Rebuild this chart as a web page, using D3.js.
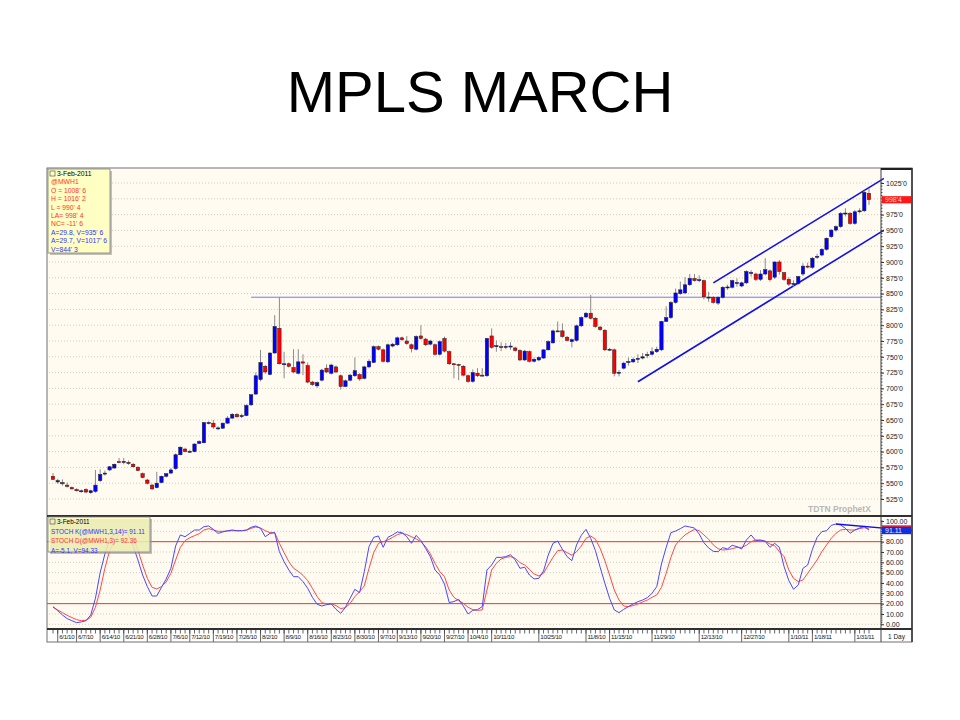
<!DOCTYPE html>
<html>
<head>
<meta charset="utf-8">
<script src="https://cdn.jsdelivr.net/npm/d3@7"></script>
<style>
  body { margin: 0; background: #fff; }
  svg { display: block; }
  text { font-family: "Liberation Sans", Arial, sans-serif; }
</style>
</head>
<body>
<svg id="chart" width="960" height="720"></svg>
<script>
// trading days 5/28/10 .. 2/3/11 (exchange holidays removed)
const holidays = ["2010-05-31", "2010-07-05", "2010-09-06", "2010-11-25", "2010-12-24", "2011-01-17"];
const keyFmt = d3.timeFormat("%Y-%m-%d");
const dates = d3.timeDay.range(new Date(2010, 4, 28), new Date(2011, 1, 4))
  .filter(d => d.getDay() % 6 !== 0 && !holidays.includes(keyFmt(d)));

const tickLabels = ["6/1/10", "6/7/10", "6/14/10", "6/21/10", "6/28/10", "7/6/10", "7/12/10", "7/19/10",
  "7/26/10", "8/2/10", "8/9/10", "8/16/10", "8/23/10", "8/30/10", "9/7/10", "9/13/10", "9/20/10",
  "9/27/10", "10/4/10", "10/11/10", "10/25/10", "11/8/10", "11/15/10", "11/29/10", "12/13/10",
  "12/27/10", "1/10/11", "1/18/11", "1/31/11"];

const opens = [561,552,551,547,543,540,537,540,535,537, 554,565,571,574,584,584,583,580,575,565,
  555,547,543,551,561,566,573,595,604,600, 600,613,614,645,645,637,637,645,653,659,
  656,657,674,691,714,735,722,756,795,738, 739,733,724,742,736,710,704,713,732,724,
  734,720,703,713,720,722,716,734,741,766, 761,742,767,769,780,775,769,762,783,778,
  770,769,754,779,758,739,738,735,720,711, 724,721,720,783,767,766,766,767,764,760,
  745,758,743,745,748,761,772,791,791,781, 774,776,799,813,819,811,797,792,761,761,
  725,732,742,742,747,748,753,754,758,761, 806,812,836,850,851,864,874,871,870.5,844,
  844,835,844,860,860,867,862,867,883,881, 872.5,881,886,876,900,883,872.5,865,866,881,
  893.5,891.5,908,911,920,940,950.5,956,977,977, 961,980,981,1008.75];
const highs = [566,557,556,551,545,542,540,542,540,571, 572,570,577,581,590,590,586,582,577,567,
  557,549,568,562,566,574,597,608,606,603, 613,618,647,648,650,640,646,656,661,661,
  660,675,690,725,761,737,757,816,844,758, 741,762,762,754,741,712,711,731,738,739,
  736,722,714,723,749,724,736,746,768,768, 763,771,772,782,782,783,771,784,800,780,
  777,771,776,782,760,740,739,737,722,730, 732,732,780,795,776,773,772,773,766,762,
  761,760,749,751,762,776,793,806,803,783, 779,801,814,821,848,813,799,794,764,763,
  729,742,749,749,754,756,758,765,766,807, 830,838,858,869,876,881,881,879,872,853,
  846,846,862,864,872,874,869,887,887,883, 887,906,888,901,903,884,876,871,878,898,
  899,908,913,922,939,952,958,979,985,979, 982,985,1013,1016.25];
const lows = [555,549,546,543,540,537,535,534,533,535, 552,562,569,573,582,580,579,575,569,558,
  548,539,542,550,559,565,571,594,599,598, 599,612,613,643,636,634,636,644,652,654,
  653,656,672,690,711,723,721,755,738,716, 733,724,722,721,708,704,701,711,724,722,
  724,698,702,711,718,712,714,732,740,760, 741,740,765,767,775,769,757,760,777,767,
  768,752,752,757,737,716,713,719,709,709, 718,719,718,763,758,759,762,761,758,743,
  743,741,741,743,747,760,771,789,780,774, 765,774,797,811,809,796,791,759,759,719,
  719,730,736,740,740,746,748,752,756,759, 805,810,834,848,849,862,869,868,841,837,
  834,832,842,856,858,861,860,865,877,870, 870,879,869,873,880,870,862,861,864,878,
  890,889,905,909,918,938,948,954,972,959, 959,977,979,990.5];
const closes = [556,554,549,545,541,538,538,536,538,547, 564,566,576,580,583,584.5,581,576,570,559,
  550,541,550,561,565,571,595,607,600,600.5, 612,616,646,646,639,637.5,645,653,659,655,
  657,673,690,720,741,726,756,798,739,739, 735,726,742,740,710,706,709,729,726,737,
  726,703,712,721,728,715,734,743,766,762, 743,769,770,780,777,771,763,782,779,769,
  775,754,774,759,739,738,737,721,711,725, 720,720,779,765,767.5,765,766.5,767,760,745,
  759,743,746,749,761,774,791,790,782,776, 777,799,812,819,811,798,793,761,762,724,
  725.5,740,742.5,746,747.5,750,753.5,758,762,806, 812,836,851,856,864,874,870.5,872,845,844.5,
  836,844,860,860.5,870.5,867.5,867,885,883.5,872.5, 881,888,872,900,885,872.5,865,866,877,893.5,
  893,906,909,920,937.5,950.5,956,977,977.5,961, 979.5,981,1010.25,998.5];

const stochK = [17.1,13.2,9.0,5.5,3.5,1.6,2.3,3.5,9.0,25.2, 50,68,82.3,87.4,90.6,91.3,86.5,75.8,62.3,47.7,
  36.5,27.4,27.4,35.8,43.9,54.2,75.8,86.5,84.8,88, 91.3,91.3,94.5,95.2,91.9,88,89.4,90.6,91.3,90.6,
  90.6,91.3,93.9,95.2,92.9,84.8,88,88.7,70.3,60.6, 52.6,46.1,46.1,41.3,34.8,26.1,19.4,17.7,19.0,19.7,
  14.5,10.6,16.5,25.2,33.9,30.6,51,75.2,84.2,85.5, 74.5,84.2,86.5,89.4,88.7,84.8,78.4,86.1,81,73.5,
  65.5,52.6,47.7,39,21,22,24.2,17.7,10,13.5, 14.2,17.1,52.6,57.4,64.8,64.8,65.5,67.4,62.3,54.2,
  55.2,47.7,43.9,44.5,51.6,67.1,78.4,80.6,72.6,65.5, 61.6,76.8,86.1,91.9,83.2,71.3,55.2,39.7,25.2,13.9,
  11.3,14.5,17.1,19.7,21.9,23.5,25.8,30,36.5,58.4, 74.5,88.7,90.3,92.6,95.2,94.2,93.2,87.4,79,73.9,
  70.6,70.3,74.2,72.9,76.5,75.2,72.9,81.6,86.5,81, 81.6,80.3,74.5,78.4,74.5,55.8,42.3,33.9,38.1,54.2,
  57.4,72.6,84.2,89.7,90.6,95.8,97.1,96.1,92.9,88.1, 91.3,93.2,94.8,91.11];
const stochD = [16.5,13.9,11.3,8.7,6.5,4.5,3.5,3.9,6.8,16.5, 33.2,54.2,71.3,80,87.1,90,89.7,84.8,71.9,57.4,
  44.5,35.8,34.2,36.5,41,49.4,62.3,74.5,81,83.9, 85.8,87.7,91.3,92.6,91.3,90,90,90.3,90.6,90.6,
  90.6,91,92.9,94.2,93.2,90.6,88.7,88.7,78.4,69.4, 60.6,54.2,51.3,47.4,42.3,34.8,26.8,21,19.7,20,
  18.1,15.2,16.1,20.3,26.8,31.6,37.1,54.2,69.4,78.4, 80,81.6,84.2,86.8,88.1,86.8,84.8,82.6,80,75.2,
  68.1,59,51,46.1,33.2,26.1,22.9,20.3,16.5,14.2, 13.5,13.9,33.2,52.6,59,63.2,64.8,65.5,63.9,59.7,
  57.4,53.2,48.7,46.8,49.4,57.4,64.8,71.3,71.9,69.4, 66.8,70.3,75.8,83.2,85.5,82.3,73.5,61.6,47.7,33.2,
  23.5,17.7,17.1,18.1,19.7,21.6,23.5,26.1,28.4,35.8, 49.4,64.8,76.8,82.3,86.5,89.4,91.9,90.6,86.5,82.3,
  76.8,73.2,71.9,72.3,73.2,74.5,74.5,76.5,80,81.6, 81.3,80.6,77.7,76.1,70.3,65.5,52.6,44.5,41.3,42.9,
  49.4,55.8,62.3,70.3,76.8,83.2,88.1,91.3,91.9,91.3, 91.3,92.6,93.5,92.36];

// drawn studies: [start bar, start value, end bar, end value]
const channelLines = [[124, 710.6, 173, 935.75], [140, 867, 173, 1017.75]];
const supportLine = [42, 844.25];
const stochTrend = [166, 97.1, 173, 94.33];
const stochBands = [80, 20];

// axis labels hidden in the original behind the last-value boxes are left out
const priceTicks = [525, 550, 575, 600, 625, 650, 675, 700, 725, 750, 775, 800, 825, 850, 875, 900, 925, 950, 975, 1025];
const stochTicks = [0, 10, 20, 30, 40, 50, 60, 70, 80, 100];

const priceLegend = [["3-Feb-2011", "#000"], ["@MWH1", "#f33"], ["O = 1008' 6", "#f33"], ["H = 1016' 2", "#f33"],
  ["L = 990' 4", "#f33"], ["LA= 998' 4", "#f33"], ["NC= -11' 6", "#f33"], ["A=29.8, V=935' 6", "#33f"],
  ["A=29.7, V=1017' 6", "#33f"], ["V=844' 3", "#33f"]];
const stochLegend = [["3-Feb-2011", "#000"], ["STOCH K(@MWH1,3,14)= 91.11", "#33f"],
  ["STOCH D(@MWH1,3)= 92.36", "#f33"], ["A=-5.1, V=94.33", "#33f"]];

const svg = d3.select("#chart");
const L = 47, R = 881, RE = 912;
const priceTop = 168, priceBot = 516, stochTop = 517, stochBot = 629, dateBot = 642;

const x = d3.scaleLinear().domain([0, dates.length - 1]).range([53, 869]);
const y = d3.scaleLinear().domain([525, 1025]).range([499, 183]);
const ys = d3.scaleLinear().domain([0, 100]).range([624.3, 521]);
const dateFmt = d3.timeFormat("%-m/%-d/%y");

// title
svg.append("text").attr("x", 480).attr("y", 112).attr("text-anchor", "middle")
  .attr("font-size", 58).attr("fill", "#000").text("MPLS MARCH");

// backgrounds
svg.append("rect").attr("x", L).attr("y", priceTop).attr("width", R - L).attr("height", priceBot - priceTop).attr("fill", "#fffbf0");
svg.append("rect").attr("x", L).attr("y", stochTop).attr("width", R - L).attr("height", stochBot - stochTop).attr("fill", "#fffbf0");

svg.append("defs").append("clipPath").attr("id", "pclip")
  .append("rect").attr("x", L).attr("y", priceTop).attr("width", R - L + 3).attr("height", priceBot - priceTop);

// grid
const grid = svg.append("g").attr("stroke", "#d0ccc0").attr("stroke-dasharray", "1,2");
grid.selectAll(".pg").data(d3.range(525, 1026, 25)).join("line")
  .attr("x1", L + 2).attr("x2", R).attr("y1", d => y(d)).attr("y2", d => y(d));
grid.selectAll(".sg").data(d3.range(0, 101, 10)).join("line")
  .attr("x1", L + 2).attr("x2", R).attr("y1", d => ys(d)).attr("y2", d => ys(d));

// support line + channel
const studies = svg.append("g").attr("clip-path", "url(#pclip)");
studies.append("line").attr("x1", x(supportLine[0])).attr("x2", R)
  .attr("y1", y(supportLine[1])).attr("y2", y(supportLine[1]))
  .attr("stroke", "#7878ff").attr("stroke-width", 1);

function extend(s, xEnd) {
  const iEnd = x.invert(xEnd);
  const v = s[1] + (s[3] - s[1]) / (s[2] - s[0]) * (iEnd - s[0]);
  return [iEnd, v];
}
channelLines.forEach(s => {
  const [ie, ve] = extend(s, R + 3);
  studies.append("line").attr("x1", x(s[0])).attr("y1", y(s[1])).attr("x2", x(ie)).attr("y2", y(ve))
    .attr("stroke", "#1010ee").attr("stroke-width", 1.6);
});

// candles
const bars = d3.range(dates.length);
const cg = svg.append("g");
cg.selectAll(".wick").data(bars).join("line")
  .attr("x1", i => x(i)).attr("x2", i => x(i))
  .attr("y1", i => y(highs[i])).attr("y2", i => y(lows[i]))
  .attr("stroke", "#8a8a8a").attr("stroke-width", 1);
cg.selectAll(".body").data(bars).join("rect")
  .attr("x", i => x(i) - 1.7).attr("width", 3.4)
  .attr("y", i => y(Math.max(opens[i], closes[i])))
  .attr("height", i => Math.max(1, Math.abs(y(opens[i]) - y(closes[i]))))
  .attr("fill", i => closes[i] >= opens[i] ? "#0000ff" : "#ff0000")
  .attr("stroke", "#202020").attr("stroke-width", 0.5);

// watermark
svg.append("text").attr("x", 808).attr("y", 512).attr("font-family", "'Liberation Mono', 'DejaVu Sans Mono', monospace")
  .attr("font-size", 8.5).attr("font-weight", "bold").attr("fill", "#b8b8b8").text("TDTN ProphetX");

// stochastic
stochBands.forEach(v => svg.append("line").attr("x1", L).attr("x2", R).attr("y1", ys(v)).attr("y2", ys(v))
  .attr("stroke", "#ff3030").attr("stroke-width", 1));
const sLine = arr => d3.line().x((d, i) => x(i)).y(d => ys(d))(arr);
svg.append("path").attr("d", sLine(stochD)).attr("fill", "none").attr("stroke", "#ff4848").attr("stroke-width", 1);
svg.append("path").attr("d", sLine(stochK)).attr("fill", "none").attr("stroke", "#4848ff").attr("stroke-width", 1);
{
  const [ie, ve] = extend(stochTrend, RE);
  svg.append("line").attr("x1", x(stochTrend[0])).attr("y1", ys(stochTrend[1])).attr("x2", x(ie)).attr("y2", ys(ve))
    .attr("stroke", "#1010ee").attr("stroke-width", 1.4);
}

// axes
const pAxis = svg.append("g").attr("transform", `translate(${R},0)`)
  .call(d3.axisRight(y).tickValues(priceTicks).tickSize(3).tickFormat(d => d + "'0"));
pAxis.select(".domain").remove();
const sAxis = svg.append("g").attr("transform", `translate(${R},0)`)
  .call(d3.axisRight(ys).tickValues(stochTicks).tickSize(3).tickFormat(d3.format(".2f")));
sAxis.select(".domain").remove();
[pAxis, sAxis].forEach(a => {
  a.selectAll("text").attr("font-size", 7).attr("fill", "#202020").attr("x", 5)
    .attr("font-family", "'Liberation Sans', Arial, sans-serif");
  a.selectAll("line").attr("stroke", "#303030");
});
// minor ticks (give the axis line its dotted look)
svg.append("g").selectAll("line").data(d3.range(525, 1026, 5)).join("line")
  .attr("x1", R).attr("x2", R + 1.5).attr("y1", d => y(d)).attr("y2", d => y(d)).attr("stroke", "#505050");
svg.append("g").selectAll("line").data(d3.range(0, 101, 2)).join("line")
  .attr("x1", R).attr("x2", R + 1.5).attr("y1", d => ys(d)).attr("y2", d => ys(d)).attr("stroke", "#505050");

// last value markers
svg.append("rect").attr("x", R + 1).attr("y", y(closes[173]) - 3.6).attr("width", RE - R - 2).attr("height", 7.2).attr("fill", "#ff1818");
svg.append("text").attr("x", R + 4).attr("y", y(closes[173]) + 2.5).attr("font-size", 7).attr("fill", "#ffd0d0").text("998'4");
svg.append("rect").attr("x", R + 1).attr("y", ys(stochD[173]) - 3.6).attr("width", RE - R - 2).attr("height", 7.2).attr("fill", "#ff2020");
svg.append("rect").attr("x", R + 1).attr("y", ys(stochK[173]) - 3.4).attr("width", RE - R - 2).attr("height", 7.4).attr("fill", "#1030e0");
svg.append("text").attr("x", R + 4).attr("y", ys(stochK[173]) + 2.6).attr("font-size", 7).attr("fill", "#e8e8ff").text("91.11");

// date axis
const dg = svg.append("g");
dg.selectAll(".mt").data(bars).join("line")
  .attr("x1", i => x(i)).attr("x2", i => x(i)).attr("y1", stochBot + 1).attr("y2", stochBot + 4.5)
  .attr("stroke", "#404040").attr("stroke-width", 0.8);
const labelled = bars.filter(i => tickLabels.includes(dateFmt(dates[i])));
dg.selectAll(".Mt").data(labelled).join("line")
  .attr("x1", i => x(i)).attr("x2", i => x(i)).attr("y1", stochBot + 1).attr("y2", dateBot)
  .attr("stroke", "#404040").attr("stroke-width", 0.8);
dg.selectAll("text").data(labelled).join("text")
  .attr("x", i => x(i) + 1.5).attr("y", 639).attr("font-size", 6.2).attr("letter-spacing", -0.35)
  .attr("fill", "#202020")
  .text(i => dateFmt(dates[i]));

// frame
const fr = svg.append("g").attr("fill", "none");
fr.append("rect").attr("x", L).attr("y", priceTop).attr("width", RE - L).attr("height", dateBot - priceTop)
  .attr("stroke", "#707070").attr("stroke-width", 1);
fr.append("line").attr("x1", R).attr("x2", R).attr("y1", priceTop).attr("y2", dateBot).attr("stroke", "#404040");
[priceBot, stochBot].forEach(v => fr.append("line").attr("x1", L).attr("x2", RE).attr("y1", v).attr("y2", v)
  .attr("stroke", "#303030").attr("stroke-width", 2));
fr.append("line").attr("x1", R).attr("x2", RE).attr("y1", priceTop + 1).attr("y2", priceTop + 1).attr("stroke", "#202020").attr("stroke-width", 2);
fr.append("line").attr("x1", RE).attr("x2", RE).attr("y1", priceTop).attr("y2", dateBot).attr("stroke", "#303030").attr("stroke-width", 1.5);
svg.append("text").attr("x", (R + RE) / 2).attr("y", 639).attr("text-anchor", "middle")
  .attr("font-size", 6.5).attr("fill", "#202020").text("1 Day");

// legends
function legend(lines, x0, y0, w, h, fill, dy, fs) {
  const g = svg.append("g");
  g.append("rect").attr("x", x0 + 2).attr("y", y0 + 2).attr("width", w).attr("height", h).attr("fill", "#9a9a9a").attr("opacity", 0.6);
  g.append("rect").attr("x", x0).attr("y", y0).attr("width", w).attr("height", h).attr("fill", fill).attr("stroke", "#808080").attr("stroke-width", 0.8);
  g.append("rect").attr("x", x0 + 2).attr("y", y0 + 2).attr("width", 5).attr("height", 5).attr("fill", "none").attr("stroke", "#404040").attr("stroke-width", 0.6);
  g.selectAll("text").data(lines).join("text")
    .attr("x", (d, i) => i === 0 ? x0 + 9 : x0 + 3)
    .attr("y", (d, i) => y0 + 7 + i * dy)
    .attr("font-size", fs).attr("fill", d => d[1]).text(d => d[0]);
}
legend(priceLegend, L + 1, priceTop + 1, 62, 84, "#ffffc4", 8.4, 6.8);
legend(stochLegend, L + 1, stochTop, 102, 35, "rgba(255,255,185,0.72)", 9.6, 6.4);
</script>
</body>
</html>
